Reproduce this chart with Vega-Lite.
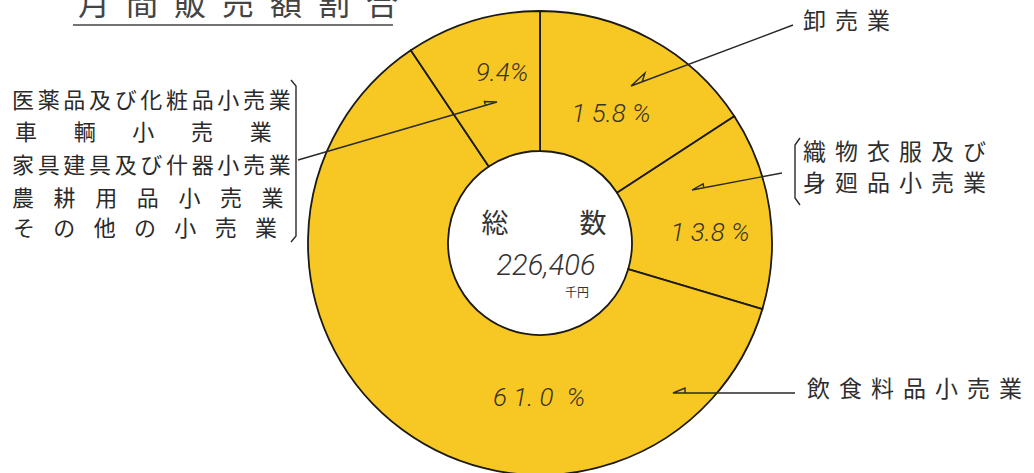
{
  "$schema": "https://vega.github.io/schema/vega-lite/v6.json",
  "width": 988,
  "height": 460,
  "autosize": {"type": "none"},
  "padding": {"left": 46, "top": 13, "right": 0, "bottom": 0},
  "background": "white",
  "config": {"view": {"stroke": null}},
  "datasets": {
    "slices": [
      {"category": "卸売業", "share": 15.8, "order": 1},
      {"category": "織物衣服及び身廻品小売業", "share": 13.8, "order": 2},
      {"category": "飲食料品小売業", "share": 61.0, "order": 3},
      {"category": "その他の小売業", "share": 9.4, "order": 4}
    ],
    "pct": [
      {"label": "9.4%", "x": 502, "y": 73},
      {"label": "1 5.8 %", "x": 611, "y": 114},
      {"label": "1 3.8 %", "x": 710, "y": 233},
      {"label": "6 1. 0\u2002%", "x": 539, "y": 398}
    ],
    "names": [
      {"label": "卸\u00a0\u2006売\u00a0\u2006業", "x": 803, "y": 22},
      {"label": "織\u00a0\u2006物\u00a0\u2006衣\u00a0\u2006服\u00a0\u2006及\u00a0\u2006び", "x": 803, "y": 153},
      {"label": "身\u00a0\u2006廻\u00a0\u2006品\u00a0\u2006小\u00a0\u2006売\u00a0\u2006業", "x": 803, "y": 184},
      {"label": "飲\u00a0\u2006食\u00a0\u2006料\u00a0\u2006品\u00a0\u2006小\u00a0\u2006売\u00a0\u2006業", "x": 807, "y": 390}
    ],
    "leftblock": [
      {"label": "医\u2006薬\u2006品\u2006及\u2006び\u2006化\u2006粧\u2006品\u2006小\u2006売\u2006業", "x": 12, "y": 101},
      {"label": "車　\u2002\u2006輌　\u2002\u2006小　\u2002\u2006売　\u2002\u2006業", "x": 15, "y": 133},
      {"label": "家\u2006具\u2006建\u2006具\u2006及\u2006び\u2006什\u2006器\u2006小\u2006売\u2006業", "x": 12, "y": 166},
      {"label": "農\u2002\u00a0\u2006耕\u2002\u00a0\u2006用\u2002\u00a0\u2006品\u2002\u00a0\u2006小\u2002\u00a0\u2006売\u2002\u00a0\u2006業", "x": 12, "y": 199},
      {"label": "そ\u2002\u2006\u2006の\u2002\u2006\u2006他\u2002\u2006\u2006の\u2002\u2006\u2006小\u2002\u2006\u2006売\u2002\u2006\u2006業", "x": 13, "y": 229}
    ],
    "center": [
      {"label": "総", "x": 495, "y": 225},
      {"label": "数", "x": 593, "y": 225}
    ],
    "total": [{"label": "226,406", "x": 546, "y": 266}],
    "unit": [{"label": "千円", "x": 577, "y": 293}],
    "title": [{"label": "月\u2002間\u2002販\u2002売\u2002額\u2002割\u2002合", "x": 78, "y": 15}],
    "underline": [{"x": 73, "x2": 393, "y": 25}],
    "leaders": [
      {"id": "A", "seq": 1, "x": 298, "y": 160},
      {"id": "A", "seq": 2, "x": 497, "y": 102},
      {"id": "A", "seq": 3, "x": 484.4, "y": 101.6},
      {"id": "A", "seq": 4, "x": 485.5, "y": 105.4},
      {"id": "B", "seq": 1, "x": 793, "y": 25},
      {"id": "B", "seq": 2, "x": 631, "y": 86},
      {"id": "B", "seq": 3, "x": 645, "y": 73},
      {"id": "B", "seq": 4, "x": 642.2, "y": 81.7},
      {"id": "C", "seq": 1, "x": 782, "y": 173},
      {"id": "C", "seq": 2, "x": 692, "y": 190},
      {"id": "C", "seq": 3, "x": 703.1, "y": 183.9},
      {"id": "C", "seq": 4, "x": 703.8, "y": 187.8},
      {"id": "D", "seq": 1, "x": 795, "y": 393},
      {"id": "D", "seq": 2, "x": 673, "y": 393},
      {"id": "D", "seq": 3, "x": 685, "y": 388},
      {"id": "D", "seq": 4, "x": 685, "y": 393},
      {"id": "E", "seq": 1, "x": 291, "y": 80},
      {"id": "E", "seq": 2, "x": 296, "y": 86},
      {"id": "E", "seq": 3, "x": 296, "y": 236},
      {"id": "E", "seq": 4, "x": 291, "y": 242},
      {"id": "F", "seq": 1, "x": 800, "y": 138},
      {"id": "F", "seq": 2, "x": 795, "y": 145},
      {"id": "F", "seq": 3, "x": 795, "y": 198},
      {"id": "F", "seq": 4, "x": 800, "y": 205}
    ]
  },
  "layer": [
    {
      "data": {"name": "slices"},
      "mark": {"type": "arc", "radius": 232, "radius2": 92, "fill": "#F7C824", "stroke": "#1c1a14", "strokeWidth": 1.8},
      "encoding": {
        "theta": {"field": "share", "type": "quantitative", "stack": true},
        "order": {"field": "order", "type": "quantitative"}
      }
    },
    {
      "data": {"name": "leaders"},
      "mark": {"type": "line", "stroke": "#2a2a2a", "strokeWidth": 1.4},
      "encoding": {
        "x": {"field": "x", "type": "quantitative", "scale": {"domain": [46, 1034], "nice": false, "zero": false}, "axis": null},
        "y": {"field": "y", "type": "quantitative", "scale": {"domain": [13, 473], "nice": false, "zero": false, "reverse": true}, "axis": null},
        "detail": {"field": "id"},
        "order": {"field": "seq", "type": "quantitative"}
      }
    },
    {
      "data": {"name": "underline"},
      "mark": {"type": "rule", "stroke": "#444444", "strokeWidth": 1.5},
      "encoding": {
        "x": {"field": "x", "type": "quantitative"},
        "x2": {"field": "x2"},
        "y": {"field": "y", "type": "quantitative"}
      }
    },
    {
      "data": {"name": "pct"},
      "mark": {"type": "text", "font": "Roboto", "fontWeight": 300, "fontStyle": "italic", "fontSize": 26, "fill": "#3a3222", "align": "center", "baseline": "middle"},
      "encoding": {
        "x": {"field": "x", "type": "quantitative"},
        "y": {"field": "y", "type": "quantitative"},
        "text": {"field": "label"}
      }
    },
    {
      "data": {"name": "names"},
      "mark": {"type": "text", "font": "Noto Sans CJK JP", "fontSize": 23, "fill": "#2e2e2e", "align": "left", "baseline": "middle"},
      "encoding": {
        "x": {"field": "x", "type": "quantitative"},
        "y": {"field": "y", "type": "quantitative"},
        "text": {"field": "label"}
      }
    },
    {
      "data": {"name": "leftblock"},
      "mark": {"type": "text", "font": "Noto Sans CJK JP", "fontSize": 22, "fill": "#2a2a2a", "align": "left", "baseline": "middle"},
      "encoding": {
        "x": {"field": "x", "type": "quantitative"},
        "y": {"field": "y", "type": "quantitative"},
        "text": {"field": "label"}
      }
    },
    {
      "data": {"name": "center"},
      "mark": {"type": "text", "font": "Noto Sans CJK JP", "fontSize": 27, "fill": "#333333", "align": "center", "baseline": "middle"},
      "encoding": {
        "x": {"field": "x", "type": "quantitative"},
        "y": {"field": "y", "type": "quantitative"},
        "text": {"field": "label"}
      }
    },
    {
      "data": {"name": "total"},
      "mark": {"type": "text", "font": "Roboto", "fontWeight": 300, "fontStyle": "italic", "fontSize": 29, "fill": "#333333", "align": "center", "baseline": "middle"},
      "encoding": {
        "x": {"field": "x", "type": "quantitative"},
        "y": {"field": "y", "type": "quantitative"},
        "text": {"field": "label"}
      }
    },
    {
      "data": {"name": "unit"},
      "mark": {"type": "text", "font": "Noto Sans CJK JP", "fontSize": 12, "fill": "#333333", "align": "center", "baseline": "middle"},
      "encoding": {
        "x": {"field": "x", "type": "quantitative"},
        "y": {"field": "y", "type": "quantitative"},
        "text": {"field": "label"}
      }
    },
    {
      "data": {"name": "title"},
      "mark": {"type": "text", "font": "Noto Sans CJK JP", "fontSize": 32, "fill": "#444444", "align": "left", "baseline": "alphabetic"},
      "encoding": {
        "x": {"field": "x", "type": "quantitative"},
        "y": {"field": "y", "type": "quantitative"},
        "text": {"field": "label"}
      }
    }
  ]
}
